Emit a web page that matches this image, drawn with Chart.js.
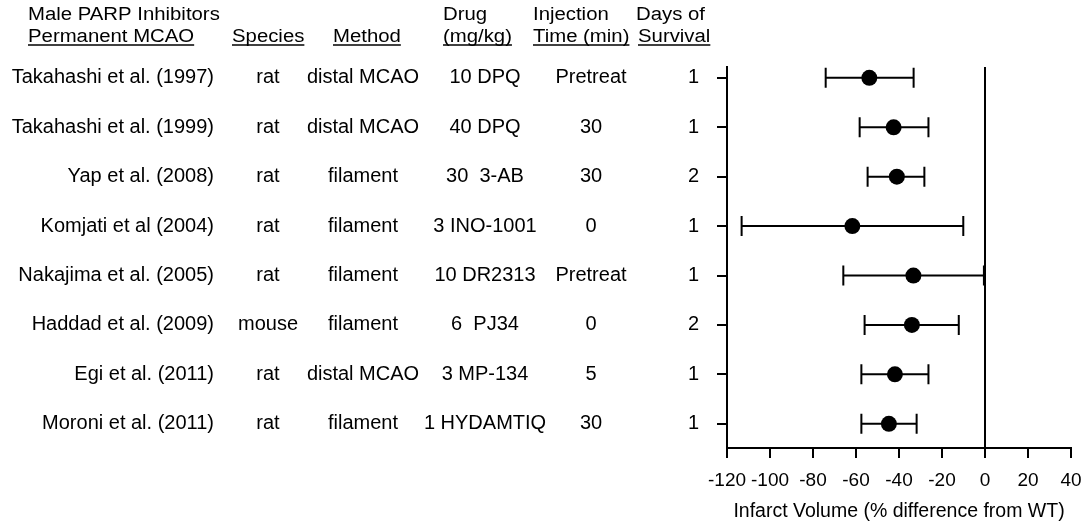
<!DOCTYPE html>
<html>
<head>
<meta charset="utf-8">
<script src="https://cdn.jsdelivr.net/npm/chart.js@4.4.1/dist/chart.umd.min.js"></script>
<style>
  html, body { margin: 0; padding: 0; background: #fff; }
  #wrap { width: 1084px; height: 529px; position: relative; }
</style>
</head>
<body>
<div id="wrap"><canvas id="c" width="1084" height="529"></canvas></div>
<script>
// ---- data ----
const studies = ["Takahashi et al. (1997)", "Takahashi et al. (1999)", "Yap et al. (2008)", "Komjati et al (2004)",
  "Nakajima et al. (2005)", "Haddad et al. (2009)", "Egi et al. (2011)", "Moroni et al. (2011)"];
const species = ["rat", "rat", "rat", "rat", "rat", "mouse", "rat", "rat"];
const methods = ["distal MCAO", "distal MCAO", "filament", "filament", "filament", "filament", "distal MCAO", "filament"];
const drugs = ["10 DPQ", "40 DPQ", "30  3-AB", "3 INO-1001", "10 DR2313", "6  PJ34", "3 MP-134", "1 HYDAMTIQ"];
const injection = ["Pretreat", "30", "30", "0", "Pretreat", "0", "5", "30"];
const days = ["1", "1", "2", "1", "1", "2", "1", "1"];
const means = [-53.8, -42.5, -41, -61.7, -33.3, -34, -41.9, -44.7];
const lower = [-74.1, -58.3, -54.6, -113.2, -65.9, -56, -57.5, -57.5];
const upper = [-33.2, -26.3, -28.2, -10.1, -0.5, -12.2, -26.3, -31.8];
const xTicks = [-120, -100, -80, -60, -40, -20, 0, 20, 40];
const xTitle = "Infarct Volume (% difference from WT)";
const headerLine1 = [["Male PARP Inhibitors", 28], ["Drug", 443], ["Injection", 533], ["Days of", 636]];
const headerLine2 = [["Permanent MCAO", 28], ["Species", 232], ["Method", 333], ["(mg/kg)", 443], ["Time (min)", 533], ["Survival", 638]];

const FONT = '"Liberation Sans", Arial, sans-serif';

const errorBars = {
  id: 'errorBars',
  beforeDatasetsDraw(chart) {
    const {ctx, scales: {x, y}} = chart;
    ctx.save();
    ctx.strokeStyle = '#000';
    ctx.lineWidth = 2;
    for (let i = 0; i < means.length; i++) {
      const py = y.getPixelForValue(i);
      const x1 = x.getPixelForValue(lower[i]);
      const x2 = x.getPixelForValue(upper[i]);
      ctx.beginPath();
      ctx.moveTo(x1, py); ctx.lineTo(x2, py);
      ctx.moveTo(x1, py - 10); ctx.lineTo(x1, py + 10);
      ctx.moveTo(x2, py - 10); ctx.lineTo(x2, py + 10);
      ctx.stroke();
    }
    ctx.restore();
  }
};

const tableText = {
  id: 'tableText',
  afterDraw(chart) {
    const {ctx, scales: {y}} = chart;
    ctx.save();
    ctx.fillStyle = '#000';
    ctx.textBaseline = 'middle';
    ctx.font = '20px ' + FONT;
    for (let i = 0; i < studies.length; i++) {
      const py = y.getPixelForValue(i);
      ctx.textAlign = 'right'; ctx.fillText(studies[i], 214, py);
      ctx.textAlign = 'center';
      ctx.fillText(species[i], 268, py);
      ctx.fillText(methods[i], 363, py);
      ctx.fillText(drugs[i], 485, py);
      ctx.fillText(injection[i], 591, py);
    }
    // headers (slightly horizontally stretched)
    const sx = 1.13;
    ctx.font = '18px ' + FONT;
    ctx.textAlign = 'left';
    ctx.textBaseline = 'alphabetic';
    const drawH = (t, x0, yb, underline) => {
      ctx.save();
      ctx.translate(x0, yb);
      ctx.scale(sx, 1);
      ctx.fillText(t, 0, 0);
      const w = ctx.measureText(t).width;
      ctx.restore();
      if (underline) {
        ctx.save();
        ctx.strokeStyle = '#000';
        ctx.lineWidth = 1.5;
        ctx.beginPath();
        ctx.moveTo(x0, yb + 3); ctx.lineTo(x0 + w * sx, yb + 3);
        ctx.stroke();
        ctx.restore();
      }
    };
    headerLine1.forEach(([t, x0]) => drawH(t, x0, 20, false));
    headerLine2.forEach(([t, x0]) => drawH(t, x0, 42, true));
    ctx.restore();
  }
};

new Chart(document.getElementById('c'), {
  type: 'scatter',
  data: {
    datasets: [{
      data: means.map((m, i) => ({x: m, y: i})),
      backgroundColor: '#000',
      borderColor: '#000',
      pointRadius: 8,
      pointHoverRadius: 8,
      borderWidth: 0
    }]
  },
  options: {
    responsive: false,
    animation: false,
    events: [],
    layout: {padding: {left: 0, right: 13, top: 67, bottom: 0}},
    plugins: {legend: {display: false}, tooltip: {enabled: false}},
    scales: {
      x: {
        type: 'linear',
        min: -120, max: 40,
        afterBuildTicks: (s) => { s.ticks = xTicks.map(v => ({value: v})); },
        afterFit: (s) => { s.height = 81; s.paddingLeft = 0; s.paddingRight = 0; },
        border: {display: true, color: '#000', width: 2},
        grid: {
          drawOnChartArea: true,
          drawTicks: true,
          tickLength: 10,
          lineWidth: 2,
          color: (c) => (c.tick && c.tick.value === 0) ? '#000' : 'rgba(0,0,0,0)',
          tickColor: '#000',
          tickWidth: 2
        },
        ticks: {
          autoSkip: false, maxRotation: 0, minRotation: 0,
          color: '#000',
          font: {family: FONT, size: 19},
          padding: 11
        },
        title: {
          display: true,
          text: xTitle,
          color: '#000',
          font: {family: FONT, size: 19.5},
          padding: {top: 6, bottom: 6}
        }
      },
      y: {
        type: 'linear',
        reverse: true,
        min: -0.22, max: 7.49,
        afterBuildTicks: (s) => { s.ticks = days.map((_, i) => ({value: i})); },
        afterFit: (s) => { s.width = 727; },
        border: {display: true, color: '#000', width: 2},
        grid: {
          drawOnChartArea: false,
          drawTicks: true,
          tickLength: 10,
          lineWidth: 2,
          color: '#000',
          tickColor: '#000',
          tickWidth: 2
        },
        ticks: {
          color: '#000',
          font: {family: FONT, size: 20},
          padding: 18,
          callback: (v) => days[v]
        }
      }
    }
  },
  plugins: [errorBars, tableText]
});
</script>
</body>
</html>
